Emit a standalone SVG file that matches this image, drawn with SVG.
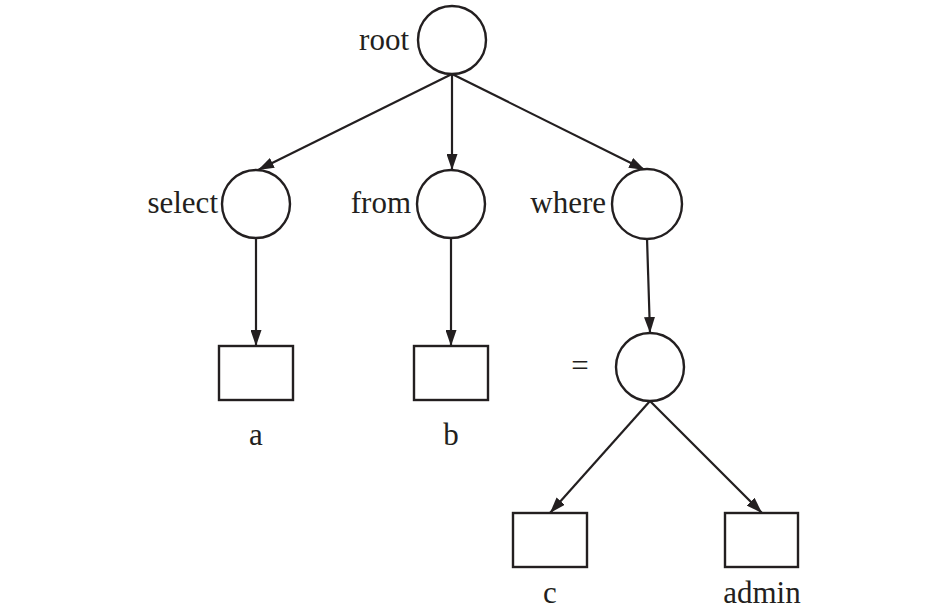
<svg xmlns="http://www.w3.org/2000/svg" width="946" height="613" viewBox="0 0 946 613">
<style>
.n{fill:#fff;stroke:#231f20;stroke-width:2.4}
.e{stroke:#231f20;stroke-width:2.2;fill:none;marker-end:url(#ah)}
text{font-family:"Liberation Serif","Times New Roman",serif;font-size:31px;fill:#231f20}
</style>
<defs>
<marker id="ah" viewBox="0 0 16 11" refX="16" refY="5.5" markerWidth="16" markerHeight="11" markerUnits="userSpaceOnUse" orient="auto">
<path d="M0,0 L16,5.5 L0,11 Z" fill="#231f20"/>
</marker>
</defs>
<rect width="946" height="613" fill="#fff"/>
<g id="connectors">
<line class="e" x1="452" y1="74" x2="258" y2="170"/>
<line class="e" x1="452" y1="74" x2="452" y2="170"/>
<line class="e" x1="452" y1="74" x2="645" y2="170"/>
<line class="e" x1="256" y1="238" x2="256" y2="346"/>
<line class="e" x1="451" y1="238" x2="451" y2="346"/>
<line class="e" x1="647" y1="238" x2="650" y2="333"/>
<line class="e" x1="650" y1="401" x2="550" y2="513"/>
<line class="e" x1="650" y1="401" x2="762" y2="513"/>
</g>
<g id="root"><circle class="n" cx="452" cy="40" r="34"/><text x="409" y="50" text-anchor="end">root</text></g>
<g id="select"><circle class="n" cx="256" cy="204" r="34"/><text x="218" y="213" text-anchor="end">select</text></g>
<g id="from"><circle class="n" cx="451" cy="204" r="34"/><text x="411" y="213" text-anchor="end">from</text></g>
<g id="where"><circle class="n" cx="647" cy="204" r="35"/><text x="606" y="213" text-anchor="end">where</text></g>
<g id="eq"><circle class="n" cx="650" cy="367" r="34"/><text x="580" y="376" text-anchor="middle">=</text></g>
<g id="a"><rect class="n" x="219" y="346" width="74" height="54"/><text x="256" y="445" text-anchor="middle">a</text></g>
<g id="b"><rect class="n" x="414" y="346" width="74" height="54"/><text x="451" y="445" text-anchor="middle">b</text></g>
<g id="c"><rect class="n" x="513" y="513" width="74" height="54"/><text x="550" y="603" text-anchor="middle">c</text></g>
<g id="admin"><rect class="n" x="725" y="513" width="73" height="54"/><text x="762" y="603" text-anchor="middle">admin</text></g>
</svg>
